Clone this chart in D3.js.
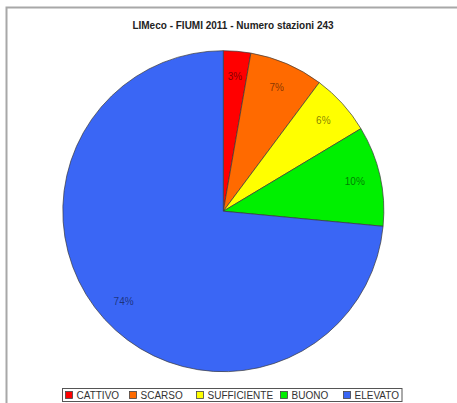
<!DOCTYPE html>
<html><head><meta charset="utf-8">
<script src="https://cdn.jsdelivr.net/npm/d3@7"></script>
<style>body{margin:0;background:#fff}svg{display:block}</style>
</head><body>
<svg id="c" width="457" height="403"></svg>
<script>
const title = "LIMeco - FIUMI 2011 - Numero stazioni 243";
const categories = ["CATTIVO", "SCARSO", "SUFFICIENTE", "BUONO", "ELEVATO"];
const values = [2.75, 7.45, 6.2, 10.1, 73.5];
const labels = ["3%", "7%", "6%", "10%", "74%"];
const colors = ["#ff0000", "#ff6a00", "#ffff00", "#00f000", "#3a66f5"];

const svg = d3.select("#c");
const font = "'Liberation Sans', Arial, sans-serif";

// frame
svg.append("rect").attr("x", 6.5).attr("y", 7.5).attr("width", 460).attr("height", 410)
  .attr("fill", "none").attr("stroke", "#a8a8a8").attr("stroke-width", 2);

svg.append("text").attr("x", 233).attr("y", 28.5).attr("text-anchor", "middle")
  .attr("font-family", font).attr("font-size", 10).attr("font-weight", "bold")
  .attr("fill", "#222").text(title);

const cx = 223.3, cy = 211.2, r = 160.5;
const pie = d3.pie().sort(null).value(d => d);
const arcs = pie(values);
const arc = d3.arc().innerRadius(0).outerRadius(r);
const labelArc = d3.arc().innerRadius(r * 0.84).outerRadius(r * 0.84);

const g = svg.append("g").attr("transform", `translate(${cx},${cy})`);
g.selectAll("path").data(arcs).join("path")
  .attr("d", arc).attr("fill", (d, i) => colors[i])
  .attr("stroke", "#3a3a3a").attr("stroke-width", 0.7);
g.selectAll("text").data(arcs).join("text")
  .attr("transform", d => `translate(${labelArc.centroid(d)})`)
  .attr("text-anchor", "middle").attr("dy", "0.35em")
  .attr("font-family", font).attr("font-size", 10)
  .attr("fill", "#000").attr("fill-opacity", 0.5)
  .text((d, i) => labels[i]);

// legend
const legX = [69, 133, 200, 284, 347];
const lg = svg.append("g");
lg.append("rect").attr("x", 62.5).attr("y", 388.5).attr("width", 339.5).attr("height", 13)
  .attr("fill", "#fff").attr("stroke", "#555").attr("stroke-width", 1);
categories.forEach((c, i) => {
  lg.append("rect").attr("x", legX[i] - 3.5).attr("y", 391.5).attr("width", 7).attr("height", 7)
    .attr("fill", colors[i]).attr("stroke", "#444").attr("stroke-width", 0.8);
  lg.append("text").attr("x", legX[i] + 7.5).attr("y", 399)
    .attr("font-family", font).attr("font-size", 10).attr("fill", "#333").text(c);
});
</script>
</body></html>
